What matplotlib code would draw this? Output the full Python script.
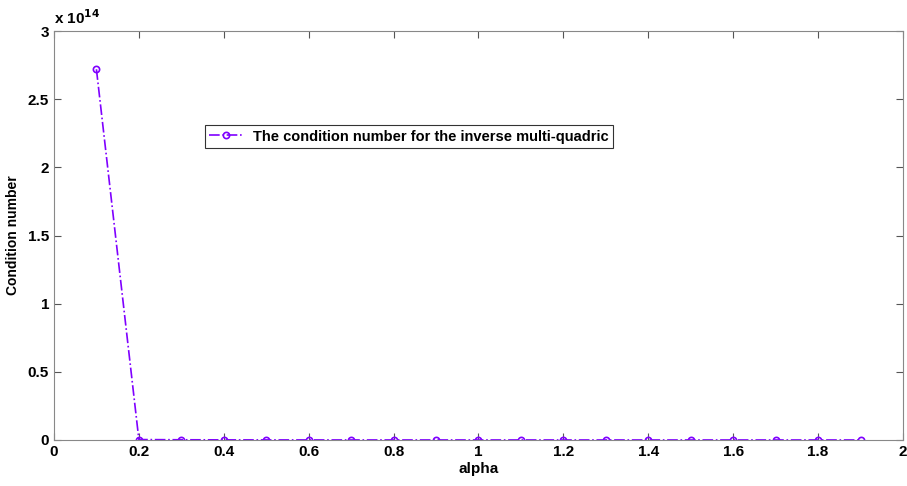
import matplotlib
matplotlib.use("Agg")
import matplotlib.pyplot as plt
import numpy as np

alpha = [0.1, 0.2, 0.3, 0.4, 0.5, 0.6, 0.7, 0.8, 0.9, 1.0,
         1.1, 1.2, 1.3, 1.4, 1.5, 1.6, 1.7, 1.8, 1.9]
cond = [2.72e14, 3.0e11, 1.5e11, 8.0e10, 5.0e10, 3.0e10, 2.0e10, 1.5e10, 1.0e10, 8.0e9,
        6.0e9, 5.0e9, 4.0e9, 3.0e9, 2.5e9, 2.0e9, 1.5e9, 1.2e9, 1.0e9]
label = "The condition number for the inverse multi-quadric"

plt.rcParams['font.family'] = ['Liberation Sans', 'DejaVu Sans']
plt.rcParams['font.weight'] = 'bold'

fig = plt.figure(figsize=(9.07, 4.86), dpi=100)
ax = fig.add_axes([0.0595, 0.0947, 0.9361, 0.8413])
color = '#7F00FF'
ax.plot(alpha, np.array(cond) / 1e14, linestyle='-.', color=color, linewidth=1.2,
        marker='o', markersize=4.5, markerfacecolor='none', markeredgecolor=color,
        markeredgewidth=1.2, label=label)
ax.set_xlim(0, 2)
ax.set_ylim(0, 3)
ax.set_xticks(np.arange(0, 2.01, 0.2))
ax.set_xticklabels(['0', '0.2', '0.4', '0.6', '0.8', '1', '1.2', '1.4', '1.6', '1.8', '2'])
ax.set_yticks([0, 0.5, 1, 1.5, 2, 2.5, 3])
ax.set_yticklabels(['0', '0.5', '1', '1.5', '2', '2.5', '3'])
ax.tick_params(direction='in', length=5, labelsize=11, color='#555555', top=True, right=True)
for s in ax.spines.values():
    s.set_color('#888888')
ax.set_xlabel('alpha', fontsize=11, fontweight='bold', labelpad=2)
ax.set_ylabel('Condition number', fontsize=10, fontweight='bold', labelpad=6)
ax.text(0.0, 1.01, r'x 10$^{14}$', transform=ax.transAxes, fontsize=11, fontweight='bold',
        ha='left', va='bottom')
leg = ax.legend(loc='upper left', bbox_to_anchor=(0.178, 0.77), fontsize=10.5, frameon=True,
                fancybox=False, edgecolor='black', borderpad=0.3, handlelength=2.2,
                borderaxespad=0)
leg.get_frame().set_linewidth(0.8)
fig.savefig('out.png', dpi=100)
